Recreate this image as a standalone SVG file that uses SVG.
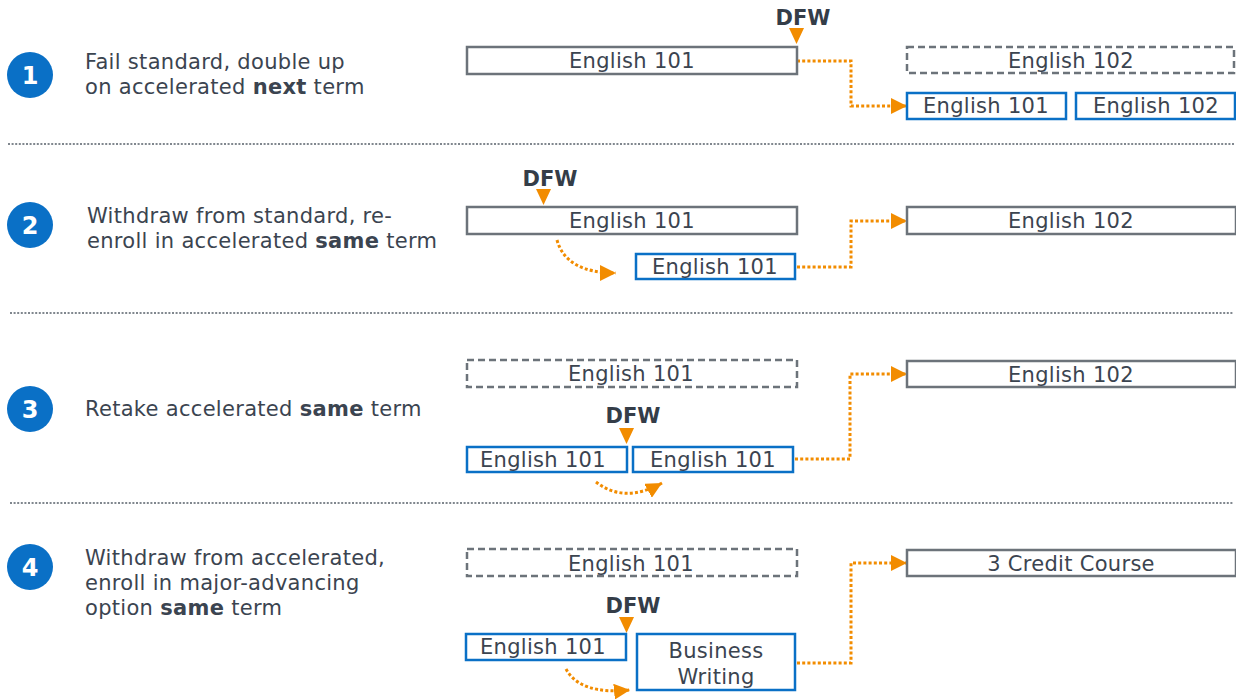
<svg xmlns="http://www.w3.org/2000/svg" width="1236" height="699" viewBox="0 0 1236 699">
<defs>
<marker id="ah" markerUnits="userSpaceOnUse" markerWidth="16" markerHeight="16" refX="16" refY="8" orient="auto" viewBox="0 0 16 16">
<path d="M0,0 L16,8 L0,16 z" fill="#f28c00"/>
</marker>
<style>
text{font-family:"DejaVu Sans","Verdana",sans-serif;fill:#3b4450;font-size:21px;letter-spacing:0.3px}
.b{font-weight:bold}
.dfw{font-weight:bold;fill:#343d48;text-anchor:middle;letter-spacing:0}
.c{text-anchor:middle}
.num{font-weight:bold;fill:#fff;font-size:24px;text-anchor:middle;letter-spacing:0}
.circ{fill:#0a70c6}
.gray{fill:#fff;stroke:#6c737a;stroke-width:2.5}
.dash{fill:#fff;stroke:#6c737a;stroke-width:2.5;stroke-dasharray:7 4}
.blue{fill:#fff;stroke:#0a70c6;stroke-width:2.5}
.tri{fill:#f28c00}
.sep{stroke:#80878e;stroke-width:2;stroke-dasharray:2 1.6;fill:none}
.con{stroke:#f28c00;stroke-width:3;stroke-dasharray:3 2.2;fill:none;marker-end:url(#ah)}
</style>
</defs>
<rect width="1236" height="699" fill="#fff"/>

<g id="separators">
<line class="sep" x1="8" y1="144" x2="1234" y2="144"/>
<line class="sep" x1="10" y1="313" x2="1234" y2="313"/>
<line class="sep" x1="10" y1="503" x2="1234" y2="503"/>
</g>

<g id="step1-label">
<circle class="circ" cx="30" cy="75" r="23"/>
<text class="num" x="30" y="84">1</text>
<text x="85" y="69">Fail standard, double up</text>
<text x="85" y="94">on accelerated <tspan class="b">next</tspan> term</text>
</g>
<g id="step2-label">
<circle class="circ" cx="30" cy="225" r="23"/>
<text class="num" x="30" y="234">2</text>
<text x="87" y="223">Withdraw from standard, re-</text>
<text x="87" y="248">enroll in accelerated <tspan class="b">same</tspan> term</text>
</g>
<g id="step3-label">
<circle class="circ" cx="30" cy="409" r="23"/>
<text class="num" x="30" y="418">3</text>
<text x="85" y="416">Retake accelerated <tspan class="b">same</tspan> term</text>
</g>
<g id="step4-label">
<circle class="circ" cx="30" cy="567" r="23"/>
<text class="num" x="30" y="576">4</text>
<text x="85" y="565">Withdraw from accelerated,</text>
<text x="85" y="590">enroll in major-advancing</text>
<text x="85" y="615">option <tspan class="b">same</tspan> term</text>
</g>

<g id="connectors">
<path class="con" d="M797,61 H851 V106 H907"/>
<path class="con" d="M557,240 Q566,273 616,273"/>
<path class="con" d="M797,267 H851 V221 H907"/>
<path class="con" d="M596,482 Q624,504 662,483"/>
<path class="con" d="M795,459 H850 V374 H907"/>
<path class="con" d="M566,669 Q580,695 630,690"/>
<path class="con" d="M797,663 H851 V563 H907"/>
</g>

<!-- Row 1 -->
<g id="r1-eng101">
<rect class="gray" x="467" y="47" width="330" height="27"/>
<text class="c" x="632" y="68">English 101</text>
</g>
<g id="r1-dfw">
<text class="dfw" x="803" y="25">DFW</text>
<polygon class="tri" points="789,28 804,28 796.5,44"/>
</g>
<g id="r1-eng102-planned">
<rect class="dash" x="907" y="47" width="327" height="26"/>
<text class="c" x="1071" y="68">English 102</text>
</g>
<g id="r1-eng101-acc">
<rect class="blue" x="907" y="93" width="159" height="26"/>
<text class="c" x="986" y="113">English 101</text>
</g>
<g id="r1-eng102-acc">
<rect class="blue" x="1076" y="93" width="159" height="26"/>
<text class="c" x="1156" y="113">English 102</text>
</g>

<!-- Row 2 -->
<g id="r2-dfw">
<text class="dfw" x="550" y="186">DFW</text>
<polygon class="tri" points="536,189 551,189 543.5,205"/>
</g>
<g id="r2-eng101">
<rect class="gray" x="467" y="207" width="330" height="27"/>
<text class="c" x="632" y="228">English 101</text>
</g>
<g id="r2-eng101-acc">
<rect class="blue" x="636" y="254" width="159" height="25"/>
<text class="c" x="715" y="274">English 101</text>
</g>
<g id="r2-eng102">
<rect class="gray" x="907" y="207" width="329" height="27"/>
<text class="c" x="1071" y="228">English 102</text>
</g>

<!-- Row 3 -->
<g id="r3-eng101-planned">
<rect class="dash" x="467" y="360" width="330" height="27"/>
<text class="c" x="631" y="381">English 101</text>
</g>
<g id="r3-dfw">
<text class="dfw" x="633" y="423">DFW</text>
<polygon class="tri" points="619,428 634,428 626.5,444"/>
</g>
<g id="r3-eng101-a">
<rect class="blue" x="467" y="447" width="160" height="25"/>
<text class="c" x="543" y="467">English 101</text>
</g>
<g id="r3-eng101-b">
<rect class="blue" x="633" y="447" width="160" height="25"/>
<text class="c" x="713" y="467">English 101</text>
</g>
<g id="r3-eng102">
<rect class="gray" x="907" y="361" width="329" height="26"/>
<text class="c" x="1071" y="382">English 102</text>
</g>

<!-- Row 4 -->
<g id="r4-eng101-planned">
<rect class="dash" x="467" y="549" width="330" height="27"/>
<text class="c" x="631" y="571">English 101</text>
</g>
<g id="r4-dfw">
<text class="dfw" x="633" y="613">DFW</text>
<polygon class="tri" points="619,617 634,617 626.5,633"/>
</g>
<g id="r4-eng101">
<rect class="blue" x="466" y="634" width="160" height="26"/>
<text class="c" x="543" y="654">English 101</text>
</g>
<g id="r4-business">
<rect class="blue" x="637" y="634" width="158" height="56"/>
<text class="c" x="716" y="658">Business</text>
<text class="c" x="716" y="684">Writing</text>
</g>
<g id="r4-credit">
<rect class="gray" x="907" y="550" width="329" height="26"/>
<text class="c" x="1071" y="571">3 Credit Course</text>
</g>
</svg>
